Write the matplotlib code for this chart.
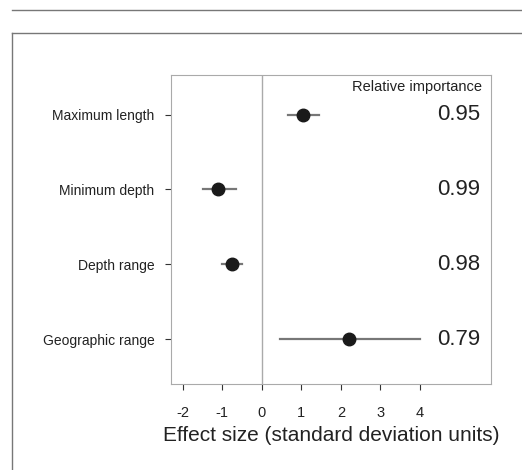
import numpy as np
import matplotlib.pyplot as plt
from matplotlib.lines import Line2D

plt.rcParams['font.family'] = ['Liberation Sans', 'DejaVu Sans']

labels = ['Maximum length', 'Minimum depth', 'Depth range', 'Geographic range']
effect = [1.05, -1.1, -0.75, 2.2]
lower = [0.65, -1.5, -1.0, 0.45]
upper = [1.45, -0.65, -0.5, 4.0]
importance = ['0.95', '0.99', '0.98', '0.79']
ypos = [4, 3, 2, 1]

W, H = 522, 470
fig = plt.figure(figsize=(W/100, H/100), dpi=100)
ax = fig.add_axes([171/W, 1-384/H, 320/W, 309/H])

# outer frame lines
fig.add_artist(Line2D([12/W, 1], [1-10/H, 1-10/H], color='#777777', lw=1))
fig.add_artist(Line2D([12/W, 1], [1-33/H, 1-33/H], color='#777777', lw=1))
fig.add_artist(Line2D([12/W, 12/W], [1-33/H, 0], color='#777777', lw=1))

ax.axvline(0, color='#aaaaaa', lw=1)
for i in range(4):
    ax.plot([lower[i], upper[i]], [ypos[i], ypos[i]], color='#777777', lw=1.6)
    ax.plot(effect[i], ypos[i], 'o', color='#1a1a1a', ms=9)
    ax.text(5.52, ypos[i], importance[i], fontsize=16, ha='right', va='center', color='#222222')
ax.text(5.57, 4.37, 'Relative importance', fontsize=10.5, ha='right', va='center', color='#222222')

ax.set_xlim(-2.3, 5.8)
ax.set_ylim(0.4, 4.53)
ax.set_xticks([-2, -1, 0, 1, 2, 3, 4])
ax.set_xticklabels(['-2', '-1', '0', '1', '2', '3', '4'], fontsize=10.5)
ax.tick_params(length=4, color='#333333', pad=12, labelcolor='#222222')
ax.tick_params(axis='y', pad=8)
ax.set_yticks(ypos)
ax.set_yticklabels(labels, fontsize=10)
for s in ax.spines.values():
    s.set_color('#aaaaaa')
ax.set_xlabel('Effect size (standard deviation units)', fontsize=15, color='#222222', labelpad=4)
fig.savefig('out.png', dpi=100)
